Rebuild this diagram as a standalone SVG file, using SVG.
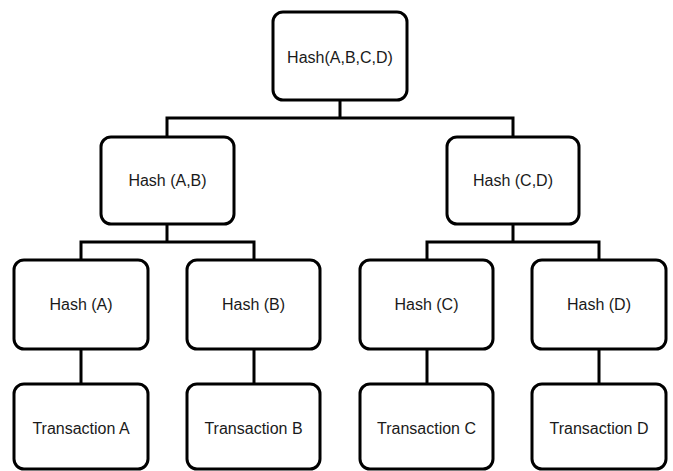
<svg xmlns="http://www.w3.org/2000/svg" width="673" height="471" viewBox="0 0 673 471">
<style>
.box{fill:#fff;stroke:#000;stroke-width:3}
.lbl{font-family:"Liberation Sans",Arial,sans-serif;font-size:16px;fill:#1a1a1a;text-anchor:middle}
.con{fill:none;stroke:#000;stroke-width:3}
</style>
<rect width="673" height="471" fill="#fff"/>
<g id="connectors">
<path class="con" d="M340 100V118M167 137V118H513V137"/>
<path class="con" d="M167 224V242M81 260V242H254V260"/>
<path class="con" d="M513 224V242M427 260V242H599V260"/>
<path class="con" d="M81 349V384M254 349V384M427 349V384M599 349V384"/>
</g>
<g id="root"><rect class="box" x="273" y="12" width="134" height="88" rx="10"/><text class="lbl" x="340" y="63">Hash(A,B,C,D)</text></g>
<g id="hashAB"><rect class="box" x="101" y="137" width="133" height="87" rx="10"/><text class="lbl" x="167.5" y="186">Hash (A,B)</text></g>
<g id="hashCD"><rect class="box" x="447" y="137" width="132" height="87" rx="10"/><text class="lbl" x="513" y="186">Hash (C,D)</text></g>
<g id="hashA"><rect class="box" x="14" y="260" width="134" height="89" rx="10"/><text class="lbl" x="81" y="310">Hash (A)</text></g>
<g id="hashB"><rect class="box" x="187" y="260" width="133" height="89" rx="10"/><text class="lbl" x="253.5" y="310">Hash (B)</text></g>
<g id="hashC"><rect class="box" x="360" y="260" width="133" height="89" rx="10"/><text class="lbl" x="426.5" y="310">Hash (C)</text></g>
<g id="hashD"><rect class="box" x="532" y="260" width="134" height="89" rx="10"/><text class="lbl" x="599" y="310">Hash (D)</text></g>
<g id="txA"><rect class="box" x="14" y="384" width="134" height="85" rx="10"/><text class="lbl" x="81" y="434">Transaction A</text></g>
<g id="txB"><rect class="box" x="187" y="384" width="133" height="85" rx="10"/><text class="lbl" x="253.5" y="434">Transaction B</text></g>
<g id="txC"><rect class="box" x="360" y="384" width="133" height="85" rx="10"/><text class="lbl" x="426.5" y="434">Transaction C</text></g>
<g id="txD"><rect class="box" x="532" y="384" width="134" height="85" rx="10"/><text class="lbl" x="599" y="434">Transaction D</text></g>
</svg>
